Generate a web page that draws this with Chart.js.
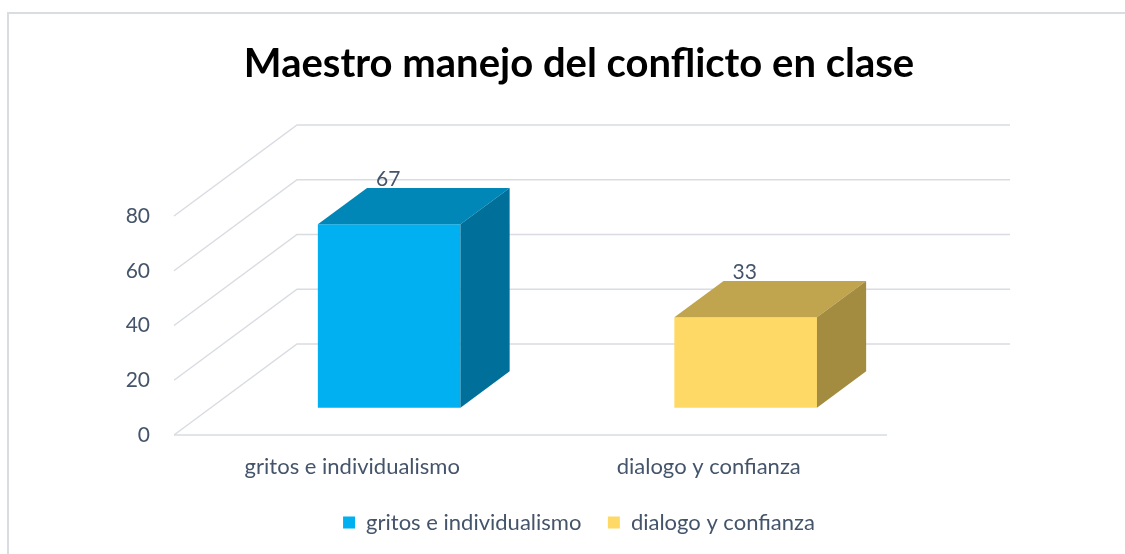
<!DOCTYPE html>
<html><head><meta charset="utf-8">
<script src="https://cdn.jsdelivr.net/npm/chart.js@4.4.0/dist/chart.umd.min.js"></script>
<style>html,body{margin:0;padding:0;background:#fff;} #c{display:block;}</style>
</head><body>
<canvas id="c" width="1125" height="554"></canvas>
<script>
// ---- data ----
const titleText = 'Maestro manejo del conflicto en clase';
const categories = ['gritos e individualismo', 'dialogo y confianza'];
const values = [67, 33];
const yTicks = [0, 20, 40, 60, 80];

// ---- styles ----
const frontColors = ['#00B0F0', '#FFD966'];
const topColors = ['#0087B7', '#C1A44E'];
const sideColors = ['#00709A', '#A38B40'];
const textColor = '#44546A';
const gridColor = '#D9DCE1';
const FONT = 'Lato';
const DEPTH = {x: 123, y: -91};
const BAR_FRONT = 0.3, BAR_DEPTH = 0.4;

const depth3d = {
  id: 'depth3d',
  beforeDraw(chart) {
    const ctx = chart.ctx;
    ctx.save();
    ctx.fillStyle = '#fff';
    ctx.fillRect(0, 0, chart.width, chart.height);
    ctx.strokeStyle = '#D9DCE1';
    ctx.lineWidth = 2;
    ctx.strokeRect(8, 13, chart.width + 50, chart.height + 50);
    ctx.restore();
  },
  beforeDatasetsDraw(chart) {
    const {ctx, chartArea: a, scales: {y}} = chart;
    ctx.save();
    ctx.strokeStyle = gridColor;
    ctx.lineWidth = 1.5;
    yTicks.forEach(v => {
      const py = y.getPixelForValue(v);
      ctx.beginPath();
      ctx.moveTo(a.left, py);
      ctx.lineTo(a.left + DEPTH.x, py + DEPTH.y);
      ctx.lineTo(a.right + DEPTH.x, py + DEPTH.y);
      ctx.stroke();
    });
    const p0 = y.getPixelForValue(0);
    ctx.beginPath();
    ctx.moveTo(a.left, p0);
    ctx.lineTo(a.right, p0);
    ctx.stroke();
    ctx.restore();
    ctx.save();
    ctx.translate(DEPTH.x * BAR_FRONT, DEPTH.y * BAR_FRONT);
  },
  afterDatasetsDraw(chart) {
    const ctx = chart.ctx;
    const meta = chart.getDatasetMeta(0);
    const dx = DEPTH.x * BAR_DEPTH, dy = DEPTH.y * BAR_DEPTH;
    meta.data.forEach((bar, i) => {
      const {x, y, base, width} = bar.getProps(['x', 'y', 'base', 'width'], true);
      const l = x - width / 2, r = x + width / 2;
      ctx.fillStyle = topColors[i];
      ctx.beginPath();
      ctx.moveTo(l, y); ctx.lineTo(l + dx, y + dy); ctx.lineTo(r + dx, y + dy); ctx.lineTo(r, y);
      ctx.closePath(); ctx.fill();
      ctx.fillStyle = sideColors[i];
      ctx.beginPath();
      ctx.moveTo(r, y); ctx.lineTo(r + dx, y + dy); ctx.lineTo(r + dx, base + dy); ctx.lineTo(r, base);
      ctx.closePath(); ctx.fill();
      ctx.fillStyle = textColor;
      ctx.font = '21px ' + FONT;
      ctx.textAlign = 'center';
      ctx.textBaseline = 'middle';
      ctx.fillText(String(values[i]), x - 1, y + dy - 9);
    });
    ctx.restore();
  }
};

new Chart(document.getElementById('c'), {
  type: 'bar',
  data: {
    labels: categories,
    datasets: [{
      data: values,
      backgroundColor: frontColors,
      borderWidth: 0,
      barPercentage: 0.4,
      categoryPercentage: 1,
      clip: false
    }]
  },
  options: {
    responsive: false,
    animation: false,
    events: [],
    layout: {padding: {top: 0, left: 33, right: 0, bottom: 10.5}},
    plugins: {
      tooltip: {enabled: false},
      title: {
        display: true,
        text: titleText,
        color: '#000',
        font: {family: FONT, size: 40, weight: 'bold', lineHeight: 1.2},
        padding: {top: 40.5, bottom: 127.5}
      },
      legend: {
        position: 'bottom',
        labels: {
          boxWidth: 12, boxHeight: 12, padding: 26.5,
          color: textColor,
          font: {family: FONT, size: 22},
          generateLabels: (chart) => chart.data.labels.map((l, i) => ({
            text: l, fillStyle: frontColors[i], strokeStyle: frontColors[i],
            lineWidth: 0, hidden: false, index: i, fontColor: textColor
          }))
        }
      }
    },
    scales: {
      x: {
        grid: {display: false, drawTicks: false},
        border: {display: false},
        ticks: {color: textColor, font: {family: FONT, size: 22}, padding: 19},
        afterFit: (s) => { s.height = 50; }
      },
      y: {
        min: 0, max: 80,
        grid: {display: false, drawTicks: false},
        border: {display: false},
        ticks: {stepSize: 20, color: textColor, font: {family: FONT, size: 21}, padding: 24},
        afterFit: (s) => { s.width = 141; }
      },
      yR: {
        position: 'right',
        display: true,
        grid: {display: false, drawTicks: false},
        border: {display: false},
        ticks: {display: false},
        afterFit: (s) => { s.width = 238; }
      }
    }
  },
  plugins: [depth3d]
});
</script>
</body></html>
